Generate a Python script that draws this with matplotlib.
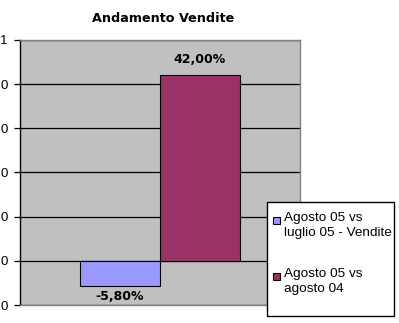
import matplotlib
matplotlib.use('Agg')
import matplotlib.pyplot as plt
from matplotlib.patches import Rectangle

# dati
series = ['Agosto 05 vs\nluglio 05 - Vendite', 'Agosto 05 vs\nagosto 04']
values = [-0.058, 0.42]
value_labels = ['-5,80%', '42,00%']
colors = ['#9999FF', '#993366']
yticks = [-0.1, 0.0, 0.1, 0.2, 0.3, 0.4, 0.5]
ytick_labels = ['0', '0', '0', '0', '0', '0', '1']

W, H = 399, 323
fig = plt.figure(figsize=(W / 100, H / 100), dpi=100, facecolor='white')
ax = fig.add_axes([20 / W, 1 - 305 / H, 280 / W, 265 / H])
ax.set_facecolor('#C0C0C0')

bw = 80 / 280
xs = [0.5 - bw / 2, 0.5 + bw / 2]
ax.bar(xs, values, width=bw, color=colors, edgecolor='black', linewidth=0.8, zorder=3)

for x, v, lab in zip(xs, values, value_labels):
    if v >= 0:
        ax.text(x, v + 0.022, lab, ha='center', va='bottom', fontsize=9,
                fontweight='bold', family='DejaVu Sans', zorder=4)
    else:
        ax.text(x, v - 0.008, lab, ha='center', va='top', fontsize=9,
                fontweight='bold', family='DejaVu Sans', zorder=4)

ax.set_xlim(0, 1)
ax.set_ylim(-0.1, 0.5)
ax.set_yticks(yticks)
ax.set_yticklabels(ytick_labels, family='Liberation Sans', fontsize=9.5)
ax.set_xticks([])
ax.yaxis.grid(True, color='black', linewidth=0.9, zorder=1)
ax.set_axisbelow(True)
ax.tick_params(axis='y', length=4, width=0.9, pad=5, color='black')

for s in ['top', 'right', 'bottom']:
    ax.spines[s].set_color('#808080')
    ax.spines[s].set_linewidth(1)
ax.spines['left'].set_color('black')
ax.spines['left'].set_linewidth(1)

# overlay in pixel coordinates for title and legend
ov = fig.add_axes([0, 0, 1, 1], facecolor='none')
ov.set_xlim(0, W)
ov.set_ylim(H, 0)
ov.axis('off')

ov.text(163, 18, 'Andamento Vendite', ha='center', va='center',
        fontsize=9.2, fontweight='bold', family='DejaVu Sans')

# legenda
ov.add_patch(Rectangle((267, 202), 127, 114, facecolor='white', edgecolor='black', linewidth=1))
for i, (lab, c) in enumerate(zip(series, colors)):
    y0 = 220 + i * 56
    ov.add_patch(Rectangle((272.5, y0 - 3.5), 7, 7, facecolor=c, edgecolor='black', linewidth=0.8))
    ov.text(284, y0 - 8, lab, ha='left', va='top', fontsize=9.7,
            family='Liberation Sans', linespacing=1.3)

fig.savefig('out.png', dpi=100, facecolor='white')
